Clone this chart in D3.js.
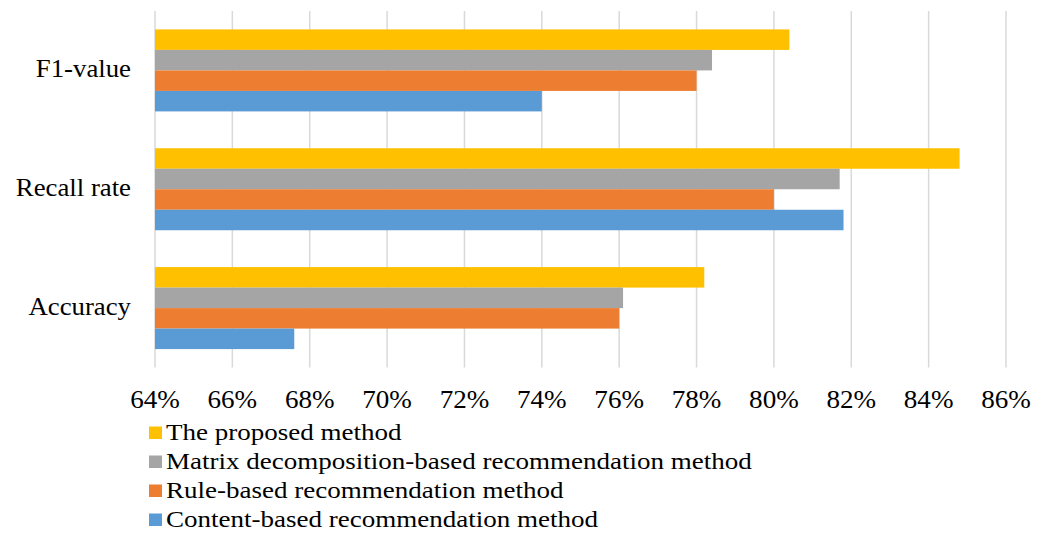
<!DOCTYPE html>
<html>
<head>
<meta charset="utf-8">
<script src="https://cdn.jsdelivr.net/npm/d3@7"></script>
<style>
  html, body { margin: 0; padding: 0; background: #fff; }
</style>
</head>
<body>
<svg id="chart" width="1048" height="533"></svg>
<script>
// Metric categories, top to bottom
const categories = ["F1-value", "Recall rate", "Accuracy"];
// Methods, in bar order within each group (top to bottom)
const methods = [
  "The proposed method",
  "Matrix decomposition-based recommendation method",
  "Rule-based recommendation method",
  "Content-based recommendation method"
];
const colors = ["#FFC000", "#A5A5A5", "#ED7D31", "#5B9BD5"];
// Values in %, one array per method, in category order
const proposed = [80.4, 84.8, 78.2];
const matrixBased = [78.4, 81.7, 76.1];
const ruleBased = [78.0, 80.0, 76.0];
const contentBased = [74.0, 81.8, 67.6];
const tickValues = [64, 66, 68, 70, 72, 74, 76, 78, 80, 82, 84, 86];

const series = [proposed, matrixBased, ruleBased, contentBased];
const serif = "'Liberation Serif', Tinos, 'Times New Roman', Times, serif";

const svg = d3.select("#chart");
const plot = { left: 155, right: 1006, top: 11, bottom: 367.5 };

const x = d3.scaleLinear().domain([64, 86]).range([plot.left, plot.right]);
const y = d3.scaleBand().domain(categories).range([plot.top, plot.bottom]).paddingInner(0.31).paddingOuter(0.155);
const yInner = d3.scaleBand().domain(d3.range(methods.length)).range([0, y.bandwidth()]);

// vertical gridlines
svg.append("g")
  .selectAll("line")
  .data(tickValues)
  .join("line")
  .attr("x1", d => x(d)).attr("x2", d => x(d))
  .attr("y1", plot.top).attr("y2", plot.bottom)
  .attr("stroke", "#D9D9D9")
  .attr("stroke-width", 1.5);

// bars
const groups = svg.append("g")
  .selectAll("g")
  .data(categories)
  .join("g")
  .attr("transform", c => `translate(0,${y(c)})`);

groups.selectAll("rect")
  .data((c, ci) => series.map((s, si) => ({ si, v: s[ci] })))
  .join("rect")
  .attr("x", x(64))
  .attr("y", d => yInner(d.si))
  .attr("width", d => x(d.v) - x(64))
  .attr("height", yInner.bandwidth())
  .attr("fill", d => colors[d.si]);

// x tick labels
svg.append("g")
  .selectAll("text")
  .data(tickValues)
  .join("text")
  .attr("transform", d => `translate(${x(d)},408) scale(1.05,1)`)
  .attr("text-anchor", "middle")
  .attr("font-family", serif)
  .attr("font-size", 25.8)
  .text(d => d + "%");

// category labels
svg.append("g")
  .selectAll("text")
  .data(categories)
  .join("text")
  .attr("transform", c => `translate(131,${y(c) + y.bandwidth() / 2 + 7}) scale(1.03,1)`)
  .attr("text-anchor", "end")
  .attr("font-family", serif)
  .attr("font-size", 26)
  .text(c => c);

// legend
const legend = svg.append("g")
  .selectAll("g")
  .data(methods)
  .join("g")
  .attr("transform", (m, i) => `translate(149,${440 + i * 29})`);

legend.append("rect")
  .attr("x", 0).attr("y", -13.5)
  .attr("width", 13).attr("height", 12.5)
  .attr("fill", (m, i) => colors[i]);

legend.append("text")
  .attr("transform", "translate(17,0) scale(1.16,1)")
  .attr("font-family", serif)
  .attr("font-size", 23.3)
  .text(m => m);
</script>
</body>
</html>
